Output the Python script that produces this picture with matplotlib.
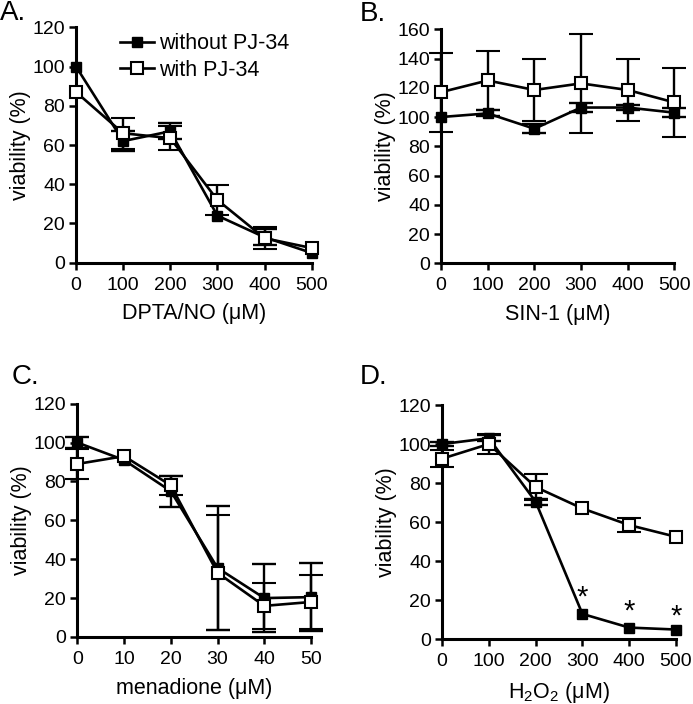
import numpy as np
import matplotlib
matplotlib.use('Agg')
import matplotlib.pyplot as plt

plt.rcParams['font.family'] = ['Liberation Sans', 'DejaVu Sans']
plt.rcParams['mathtext.default'] = 'regular'

# Panel A: DPTA/NO
dose_a = [0, 100, 200, 300, 400, 500]
a_without = [100, 62, 67, 24, 13, 5]
a_without_err = [0, 5, 4, 0, 4, 0]
a_with = [87, 66, 63.5, 32, 12.5, 7.5]
a_with_err = [0, 8, 6, 7.5, 5.5, 0]

# Panel B: SIN-1
dose_b = [0, 100, 200, 300, 400, 500]
b_without = [100, 102.5, 92, 106.5, 106.5, 103]
b_without_err = [0, 2, 3, 3, 2, 3]
b_with = [117, 125, 118.5, 123, 118.5, 110]
b_with_err = [27, 20, 21.5, 34, 21.5, 23.5]

# Panel C: menadione
dose_c = [0, 10, 20, 30, 40, 50]
c_without = [100, 91, 75, 35.5, 20, 20.5]
c_without_err = [3, 0, 8, 32, 17.5, 17.5]
c_with = [89, 93, 78, 33, 16, 18]
c_with_err = [7.5, 0, 5, 29.5, 12, 14]

# Panel D: H2O2
dose_d = [0, 100, 200, 300, 400, 500]
d_without = [100, 103, 70.5, 13, 6, 5]
d_without_err = [1, 1.5, 1.5, 0, 0, 0]
d_with = [92.5, 100, 78, 67, 58.5, 52.5]
d_with_err = [4.5, 5, 6.5, 0, 3.5, 0]
star_x = [300, 400, 500]
star_y = [21.5, 14, 11.5]


def panel(ax, x, yw, ew, yp, ep, xlabel, ymax, xmax):
    # without PJ-34 (filled) first, with PJ-34 (open) on top
    c1 = ax.errorbar(x, yw, yerr=ew, color='black', lw=1.9, marker='s', ms=7,
                     mfc='black', mec='black', capsize=8.5, capthick=1.7,
                     elinewidth=1.7, clip_on=False, zorder=3)
    c2 = ax.errorbar(x, yp, yerr=ep, color='black', lw=1.9, marker='s', ms=8,
                     mfc='white', mec='black', mew=1.5, capsize=8.5,
                     capthick=1.7, elinewidth=1.7, clip_on=False, zorder=4)
    # hide caps where there is no error to show
    for caps in (c1[1], c2[1]):
        for cap in caps:
            ys = cap.get_ydata()
            keep = np.abs(np.asarray(ys) - np.asarray(yw if caps is c1[1] else yp)) > 0
            cap.set_markevery(list(np.where(keep)[0]))
    ax.set_xlim(0, xmax)
    ax.set_ylim(0, ymax)
    ax.set_xticks(np.linspace(0, xmax, 6))
    ax.set_yticks(np.arange(0, ymax + 1, 20))
    for s in ['top', 'right']:
        ax.spines[s].set_visible(False)
    for s in ['left', 'bottom']:
        ax.spines[s].set_linewidth(2.2)
    ax.tick_params(direction='out', length=5, width=1.8, labelsize=14, pad=3)
    ax.tick_params(axis='x', pad=5)
    ax.set_xlabel(xlabel, fontsize=15.5, labelpad=7)
    ax.set_ylabel('viability (%)', fontsize=15.5, labelpad=1)
    return c1, c2


fig = plt.figure(figsize=(6.93, 7.04), dpi=100)
ax_a = fig.add_axes([0.1097, 0.6268, 0.340, 0.3344])
ax_b = fig.add_axes([0.6364, 0.626, 0.3367, 0.3324])
ax_c = fig.add_axes([0.1116, 0.0952, 0.3372, 0.3314])
ax_d = fig.add_axes([0.6378, 0.0919, 0.3377, 0.3328])

h1, h2 = panel(ax_a, dose_a, a_without, a_without_err, a_with, a_with_err,
               'DPTA/NO (μM)', 120, 500)
panel(ax_b, dose_b, b_without, b_without_err, b_with, b_with_err,
      'SIN-1 (μM)', 160, 500)
panel(ax_c, dose_c, c_without, c_without_err, c_with, c_with_err,
      'menadione (μM)', 120, 50)
panel(ax_d, dose_d, d_without, d_without_err, d_with, d_with_err,
      'H$_2$O$_2$ (μM)', 120, 500)

for sx, sy in zip(star_x, star_y):
    ax_d.text(sx, sy, '*', ha='center', va='center', fontsize=21)

ax_a.legend([h1[0], h2[0]], ['without PJ-34', 'with PJ-34'],
            loc='upper left', bbox_to_anchor=(0.185, 0.975), frameon=False,
            fontsize=15.5, handlelength=1.6, handletextpad=0.25,
            labelspacing=0.25, borderpad=0, borderaxespad=0)

fig.text(0.0, 1 - 20 / 704, 'A.', fontsize=20, va='baseline')
fig.text(360 / 693, 1 - 21 / 704, 'B.', fontsize=20, va='baseline')
fig.text(12 / 693, 1 - 384 / 704, 'C.', fontsize=20, va='baseline')
fig.text(360 / 693, 1 - 384 / 704, 'D.', fontsize=20, va='baseline')

fig.savefig('out.png', dpi=100)
